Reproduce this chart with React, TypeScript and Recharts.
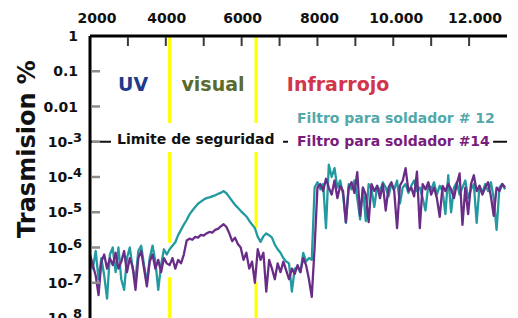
import React from 'react';
import { LineChart, Line, XAxis, YAxis, ReferenceLine, ReferenceDot } from 'recharts';

const FONT = '"DejaVu Sans", Verdana, sans-serif';

// wavelength samples
const wavelength = [
  2000, 2075, 2150, 2225, 2300, 2375, 2450, 2525, 2600, 2675,
  2750, 2825, 2900, 2975, 3050, 3125, 3200, 3275, 3350, 3425,
  3500, 3575, 3650, 3725, 3800, 3875, 3950, 4025, 4100, 4175,
  4250, 4325, 4400, 4475, 4550, 4625, 4700, 4775, 4850, 4925,
  5000, 5075, 5150, 5225, 5300, 5375, 5450, 5525, 5600, 5675,
  5750, 5825, 5900, 5975, 6050, 6125, 6200, 6275, 6350, 6425,
  6500, 6575, 6650, 6725, 6800, 6875, 6950, 7025, 7100, 7175,
  7250, 7325, 7400, 7475, 7550, 7625, 7700, 7775, 7850, 7925,
  8000, 8075, 8150, 8225, 8300, 8375, 8450, 8525, 8600, 8675,
  8750, 8825, 8900, 8975, 9050, 9125, 9200, 9275, 9350, 9425,
  9500, 9575, 9650, 9725, 9800, 9875, 9950, 10025, 10100, 10175,
  10250, 10325, 10400, 10475, 10550, 10625, 10700, 10775, 10850, 10925,
  11000, 11075, 11150, 11225, 11300, 11375, 11450, 11525, 11600, 11675,
  11750, 11825, 11900, 11975, 12050, 12125, 12200, 12275, 12350, 12425,
  12500, 12575, 12650, 12725, 12800, 12875, 12950,
];

// log10 of transmission, "Filtro para soldador # 12"
const filtro12Log = [
  -6.3, -6.6, -6.1, -6.9, -6.3, -6.8, -7.45, -6.2, -6.0, -6.7,
  -6.0, -6.9, -7.2, -6.3, -6.0, -6.6, -6.9, -6.1, -5.95, -6.5,
  -7.0, -6.3, -5.95, -6.4, -7.2, -6.5, -6.05, -6.2, -6.05, -5.95,
  -5.85, -5.65, -5.5, -5.35, -5.22, -5.06, -4.95, -4.85, -4.76, -4.7,
  -4.64, -4.6, -4.58, -4.55, -4.52, -4.48, -4.45, -4.4, -4.46, -4.57,
  -4.68, -4.79, -4.87, -4.96, -5.04, -5.12, -5.24, -5.35, -5.45, -5.7,
  -5.84, -5.68, -5.6, -5.65, -5.72, -5.92, -6.05, -6.15, -6.3, -6.4,
  -6.45, -7.25, -6.6, -6.55, -6.7, -6.15, -6.4, -6.3, -6.35, -4.3,
  -4.15, -4.35, -4.2, -5.45, -3.65, -4.0, -3.75, -4.3, -4.1, -4.5,
  -5.3, -4.2, -4.35, -4.1, -4.6, -5.2, -4.3, -5.25, -4.2, -4.35,
  -4.85, -4.25, -4.4, -4.15, -4.3, -4.55, -4.2, -4.35, -4.1, -4.75,
  -4.3, -4.2, -4.45, -4.25, -4.1, -4.4, -4.3, -4.6, -4.95, -4.2,
  -4.35, -4.15, -4.5, -4.25, -4.4, -5.05, -3.95, -5.0, -4.3, -4.15,
  -4.5, -4.3, -4.1, -4.6, -4.35, -4.2, -5.3, -4.25, -4.45, -4.2,
  -4.4, -4.15, -4.6, -5.5, -4.3, -4.2, -4.35,
];

// log10 of transmission, "Filtro para soldador #14"
const filtro14Log = [
  -6.2, -6.5, -6.8, -7.35, -6.4, -6.2, -6.6, -6.3, -6.5, -6.15,
  -6.6, -6.4, -6.1, -6.7, -6.3, -6.55, -7.2, -6.3, -6.1, -6.6,
  -7.1, -6.4, -6.2, -6.6, -6.35, -6.7, -6.3, -6.45, -6.5, -6.3,
  -6.6, -6.35, -6.45, -6.2, -5.8, -5.75, -5.78, -5.7, -5.72, -5.64,
  -5.66, -5.6, -5.56, -5.58, -5.5, -5.47, -5.4, -5.34, -5.42, -5.6,
  -5.82, -5.72, -5.9, -6.0, -6.35, -6.15, -6.6, -6.4, -7.0, -6.05,
  -6.35, -6.15, -7.25, -6.35, -6.6, -6.9, -6.45, -6.7, -6.4, -6.65,
  -6.9, -6.6, -6.75, -6.5, -6.7, -6.3, -6.5, -6.9, -7.4, -6.0,
  -4.3, -4.2, -4.4, -4.05, -4.3, -4.5, -4.1, -4.6, -4.25, -4.4,
  -5.28, -4.3, -4.15, -4.45, -3.86, -5.1, -4.3, -4.5, -5.28, -4.2,
  -4.4, -4.25, -4.6, -4.2, -4.95, -4.3, -4.15, -4.4, -5.45, -4.25,
  -4.1, -3.75, -4.4, -4.3, -4.55, -3.85, -5.45, -4.2, -4.35, -4.15,
  -4.5, -4.3, -4.6, -5.13, -4.25, -4.4, -4.2, -4.35, -4.6, -4.2,
  -3.9, -5.36, -4.3, -5.05, -4.2, -3.95, -4.4, -4.25, -4.5, -4.3,
  -4.15, -4.55, -5.1, -4.3, -4.4, -4.2, -4.3,
];

const xTicks = [2000, 3000, 4000, 5000, 6000, 7000, 8000, 9000, 10000, 11000, 12000];
const xTickLabels: Record<number, string> = {
  2000: '2000', 4000: '4000', 6000: '6000', 8000: '8000', 10000: '10.000', 12000: '12.000',
};
const yTicks = [1, 0.1, 0.01, 1e-3, 1e-4, 1e-5, 1e-6, 1e-7, 1e-8];
const yTickLabels: Record<number, [string, string]> = {
  0: ['1', ''], [-1]: ['0.1', ''], [-2]: ['0.01', ''], [-3]: ['10-', '3'], [-4]: ['10-', '4'],
  [-5]: ['10-', '5'], [-6]: ['10-', '6'], [-7]: ['10-', '7'], [-8]: ['10-', '8'],
};

// region boundaries (wavelength) and visible pieces of the yellow lines (log10 ranges)
const regionLines = [
  { x: 4100, pieces: [[0, -2.47], [-3.29, -5.87], [-6.84, -8]] },
  { x: 6380, pieces: [[0, -2.47], [-3.29, -5.45], [-6.98, -8]] },
];
// safety limit level and its visible pieces (wavelength ranges)
const safetyLimit = 1e-3;
const safetyPieces = [[2000, 2554], [7092, 7224], [12633, 13000]];

const annotations = [
  { text: 'UV', x: 3135, yLog: -1.36, color: '#1f3a8a', size: 19, anchor: 'middle' },
  { text: 'visual', x: 5245, yLog: -1.36, color: '#5a6b2c', size: 19, anchor: 'middle' },
  { text: 'Infrarrojo', x: 8544, yLog: -1.36, color: '#d2354b', size: 19, anchor: 'middle' },
  { text: 'Limite de seguridad', x: 2712, yLog: -2.93, color: '#111111', size: 14, anchor: 'start' },
  { text: 'Filtro para soldador # 12', x: 7462, yLog: -2.33, color: '#52a8aa', size: 14, anchor: 'start' },
  { text: 'Filtro para soldador #14', x: 7462, yLog: -2.98, color: '#7a1c7c', size: 14, anchor: 'start' },
];

const data = wavelength.map((w, i) => ({
  w,
  f12: Math.pow(10, filtro12Log[i]),
  f14: Math.pow(10, filtro14Log[i]),
}));

const xLabelDx: Record<number, number> = { 2000: 7, 4000: 1, 6000: 1, 8000: 2, 10000: 3, 12000: 6 };

const XTick = (props: any) => {
  const { x, y, payload } = props;
  const v = payload.value;
  const label = xTickLabels[v];
  return (
    <g>
      {v > 2000 && (
        <line x1={x} x2={x} y1={y + 1} y2={y + 10} stroke="#3a3a3a" strokeWidth={2} />
      )}
      {label && (
        <text x={x + (xLabelDx[v] || 0)} y={18} textAnchor="middle" dominantBaseline="central"
          fontFamily={FONT} fontWeight="bold" fontSize={14} fill="#111">{label}</text>
      )}
    </g>
  );
};

const YTick = (props: any) => {
  const { x, y, payload } = props;
  const e = Math.round(Math.log10(payload.value));
  const [base, exp] = yTickLabels[e] || ['', ''];
  return (
    <g>
      {e < 0 && e > -8 && (
        <line x1={x + 2} x2={x + 10} y1={y} y2={y} stroke="#8c8c8c" strokeWidth={2.5} />
      )}
      <text x={exp ? x - 8 : x - 12} y={y} textAnchor="end" dominantBaseline="central"
        fontFamily={FONT} fontWeight="bold" fontSize={14} fill="#111">
        <tspan>{base}</tspan>
        {exp && <tspan dy={-5} fontSize={13}>{exp}</tspan>}
      </text>
    </g>
  );
};

const TitleLabel = (props: any) => {
  const vb = props.viewBox || { x: 0, y: 36, width: 90, height: 282 };
  const cx = 35;
  const cy = vb.y + 113;
  return (
    <text x={cx} y={cy} transform={`rotate(-90, ${cx}, ${cy})`} textAnchor="middle"
      fontFamily={FONT} fontWeight="bold" fontSize={24} fill="#111">Trasmision %</text>
  );
};

const Ann = (props: any) => {
  const { viewBox, text, color, size, anchor } = props;
  const vb = viewBox || { x: 0, y: 0, width: 0, height: 0 };
  const x = vb.x + (vb.width || 0) / 2;
  const y = vb.y + (vb.height || 0) / 2;
  return (
    <text x={x} y={y} fill={color} fontSize={size} fontWeight="bold" fontFamily={FONT}
      textAnchor={anchor} dominantBaseline="central">{text}</text>
  );
};

export default function App() {
  return (
    <div style={{ position: 'absolute', left: 0, top: 0, width: 518, height: 318, overflow: 'hidden', background: '#fff' }}>
      <LineChart width={518} height={340} data={data} margin={{ top: 0, right: 11, bottom: 22, left: 0 }}>
        <XAxis orientation="top" type="number" dataKey="w" domain={[2000, 13000]} ticks={xTicks}
          interval={0} height={36} tickSize={0} tickMargin={0} tickLine={false}
          axisLine={{ stroke: '#000', strokeWidth: 3 }} tick={<XTick />} allowDataOverflow />
        <XAxis xAxisId="bottom" orientation="bottom" type="number" domain={[2000, 13000]} height={0}
          tick={false} tickLine={false} axisLine={{ stroke: '#777', strokeWidth: 2 }} />
        <YAxis scale="log" type="number" domain={[1e-8, 1]} ticks={yTicks} interval={0} width={90}
          tickSize={0} tickMargin={0} tickLine={false} allowDataOverflow
          axisLine={{ stroke: '#000', strokeWidth: 3 }} tick={<YTick />} label={<TitleLabel />} />
        <YAxis yAxisId="right" orientation="right" type="number" domain={[0, 1]} width={0}
          tick={false} tickLine={false} axisLine={{ stroke: '#000', strokeWidth: 3 }} />

        {regionLines.map((r) =>
          r.pieces.map((p, j) => (
            <ReferenceLine key={`y${r.x}-${j}`} segment={[{ x: r.x, y: Math.pow(10, p[0]) }, { x: r.x, y: Math.pow(10, p[1]) }]}
              stroke="#ffff00" strokeWidth={3} />
          ))
        )}
        {safetyPieces.map((p, j) => (
          <ReferenceLine key={`s${j}`} segment={[{ x: p[0], y: safetyLimit }, { x: p[1], y: safetyLimit }]}
            stroke="#111" strokeWidth={2} />
        ))}

        <Line type="linear" dataKey="f12" stroke="#229aa0" strokeWidth={2.3} dot={false} isAnimationActive={false} strokeLinejoin="round" />
        <Line type="linear" dataKey="f14" stroke="#692d87" strokeWidth={2.3} dot={false} isAnimationActive={false} strokeLinejoin="round" />

        {annotations.map((a) => (
          <ReferenceDot key={a.text} x={a.x} y={Math.pow(10, a.yLog)} r={0} fill="none" stroke="none"
            label={<Ann text={a.text} color={a.color} size={a.size} anchor={a.anchor} />} />
        ))}
      </LineChart>
    </div>
  );
}
